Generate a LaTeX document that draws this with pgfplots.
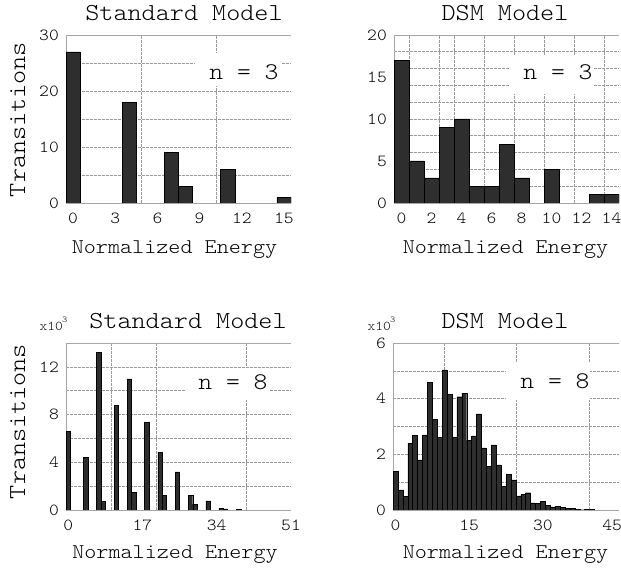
\documentclass[border=0pt]{standalone}
\usepackage{fontspec}
\usepackage{pgfplots}
\pgfplotsset{compat=1.18}
\newfontfamily\cour{lmmonolt10-regular}[Extension=.otf, FakeStretch=1.1]
\newcommand\F[1]{\fontsize{#1}{#1}\cour}
\definecolor{barc}{gray}{0.18}
\newcommand\frameit{\draw[gray!70, line width=0.8bp] (rel axis cs:1,0) -- (rel axis cs:0,0) -- (rel axis cs:0,1) -- (rel axis cs:1,1);}
\pgfplotsset{
  every axis/.append style={
    scale only axis, enlargelimits=false, clip mode=individual,
    axis line style={draw=none},
    major tick length=0pt,
    /pgf/number format/assume math mode=true,
    tick label style={font=\F{17}},
    xticklabel style={anchor=base, yshift=-21bp},
    yticklabel style={anchor=east, inner sep=0pt, xshift=-7bp},
    extra x tick labels={}, extra y tick labels={},
    extra tick style={grid=major, major tick length=0pt},
    major grid style={gray!80, dash pattern=on 2.5bp off 1.5bp, line width=0.6bp},
  },
  hbar/.style={ybar, bar width=1, bar shift=0pt, fill=barc, draw=black, line width=0.4bp}
}
\begin{document}
\begin{tikzpicture}[x=1bp,y=1bp]
\useasboundingbox (0,0) rectangle (621,570);

% Panel 1: Standard Model n=3
\begin{axis}[at={(66bp,367bp)}, anchor=south west, width=225bp, height=168bp,
  xmin=-0.5, xmax=15.5, ymin=0, ymax=30,
  xtick={0,3,6,9,12,15}, ytick={0,10,20,30},
  extra x ticks={4.8333,10.1667}, extra y ticks={5,10,15,20,25}]
\frameit
\addplot[hbar] coordinates {(0,27) (4,18) (7,9) (8,3) (11,6) (15,1)};
\end{axis}

% Panel 2: DSM Model n=3
\begin{axis}[at={(394bp,367bp)}, anchor=south west, width=225bp, height=168bp,
  xmin=-0.5, xmax=14.5, ymin=0, ymax=20,
  xtick={0,2,4,6,8,10,12,14}, ytick={0,5,10,15,20},
  extra x ticks={0.5,2.5,3.5,5.5,7.5,9.5,11.5,13.5}, extra y ticks={2,4,6,8,10,12,14,16,18}]
\frameit
\addplot[hbar] coordinates {(0,17) (1,5) (2,3) (3,9) (4,10) (5,2) (6,2) (7,7) (8,3) (10,4) (13,1) (14,1)};
\end{axis}

% Panel 3: Standard Model n=8
\begin{axis}[at={(66bp,60bp)}, anchor=south west, width=225bp, height=167bp,
  xmin=-0.5, xmax=51, ymin=0, ymax=14,
  xtick={0,17,34,51}, ytick={0,4,8,12},
  extra x ticks={9.8,20.1,40.7}, extra y ticks={2,4,6,8,10,12}]
\frameit
\addplot[hbar] coordinates {(0,6.6) (4,4.4) (7,13.2) (8,0.7) (11,8.8) (14,11.0) (15,1.5) (18,7.35) (21,4.86) (22,1.2) (25,3.2) (28,1.2) (29,0.5) (32,0.76) (35,0.15) (36,0.1) (39,0.08)};
\end{axis}

% Panel 4: DSM Model n=8
\begin{axis}[at={(393bp,60bp)}, anchor=south west, width=226bp, height=167bp,
  xmin=-0.5, xmax=45.5, ymin=0, ymax=6,
  xtick={0,15,30,45}, ytick={0,2,4,6},
  xticklabels={0,15,30,\hspace*{-9bp}45},
  extra x ticks={9.94,24.68,39.46}, extra y ticks={1,2,3,4,5}]
\frameit
\addplot[hbar] coordinates {(0,1.40) (1,0.72) (2,0.50) (3,2.40) (4,2.67) (5,1.80) (6,2.70) (7,4.59) (8,3.26) (9,2.61) (10,5.03) (11,4.16) (12,2.61) (13,4.07) (14,4.19) (15,2.51) (16,2.66) (17,3.45) (18,2.23) (19,1.56) (20,2.34) (21,1.62) (22,0.86) (23,1.29) (24,1.08) (25,0.51) (26,0.57) (27,0.62) (28,0.26) (29,0.23) (30,0.31) (31,0.16) (32,0.11) (33,0.14) (34,0.09) (35,0.07) (36,0.05) (37,0.03) (38,0.01) (39,0.02) (40,0.02)};
\end{axis}

% n labels
\fill[white] (195,484) rectangle (282,517);
\node[font=\F{24}, anchor=base] at (244,490.3) {n = 3};
\fill[white] (510,476) rectangle (593,514);
\node[font=\F{24}, anchor=base] at (558,490.3) {n = 3};
\fill[white] (185,170) rectangle (270,202);
\node[font=\F{24}, anchor=base] at (233,180) {n = 8};
\fill[white] (506,170) rectangle (590,208);
\node[font=\F{24}, anchor=base] at (555,181) {n = 8};

% titles
\node[font=\F{24.5}, anchor=base, inner sep=0pt] at (184,549) {Standard Model};
\node[font=\F{24.5}, anchor=base, inner sep=0pt] at (505,549) {DSM Model};
\node[font=\F{24.5}, anchor=base, inner sep=0pt] at (188,241) {Standard Model};
\node[font=\F{24.5}, anchor=base, inner sep=0pt] at (505,241) {DSM Model};

% y labels
\node[font=\F{24.5}, rotate=90, anchor=base] at (25,450.5) {Transitions};
\node[font=\F{24.5}, rotate=90, anchor=base] at (25,148.5) {Transitions};

% x labels
\node[font=\F{21}, anchor=base] at (174.5,316) {Normalized Energy};
\node[font=\F{21}, anchor=base] at (505.5,316) {Normalized Energy};
\node[font=\F{21}, anchor=base] at (175,11) {Normalized Energy};
\node[font=\F{21}, anchor=base] at (505.5,11) {Normalized Energy};

% multipliers
\node[font=\F{13.5}, anchor=base west, inner sep=0pt] at (39.5,239.3) {x10\kern-1bp\raisebox{8bp}{\F{9}3}};
\node[font=\F{13.5}, anchor=base west, inner sep=0pt] at (367.5,239.3) {x10\kern-1bp\raisebox{8bp}{\F{9}3}};
\end{tikzpicture}
\end{document}
